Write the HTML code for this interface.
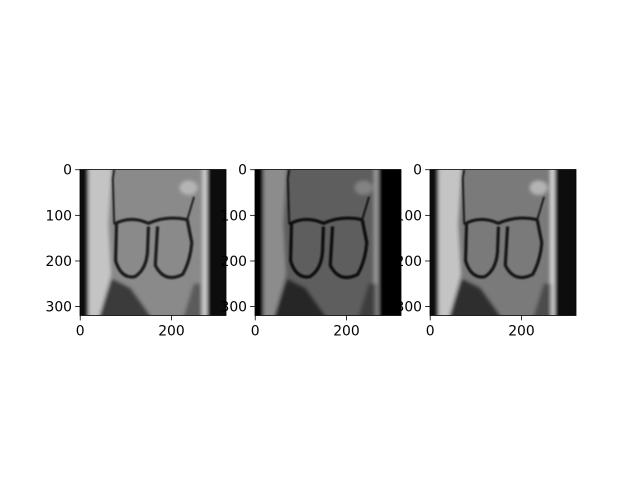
<!DOCTYPE html>
<html><head><meta charset="utf-8"><style>
body{margin:0;background:#fff;}
svg text{font-family:"DejaVu Sans","Liberation Sans",sans-serif;font-size:13.9px;fill:#000;}
</style></head><body>
<svg id="fig" width="640" height="480" xmlns="http://www.w3.org/2000/svg">
<defs><filter id="bl" x="-5%" y="-5%" width="110%" height="110%"><feGaussianBlur stdDeviation="4"/></filter>
<filter id="bl2"><feGaussianBlur stdDeviation="2"/></filter></defs>
</svg>
<script>
const xTicks=[0,200];
const yTicks=[0,100,200,300];
const imgSize=[320,320];
const panelLefts=[80,255,430];
const panelTone=[
 {bg:'#8a8a8a',left:'#0c0c0c',stripe:'#c4c4c4',right:'#0a0a0a',edge:'#d0d0d0',rstart:280,dark:'#3a3a3a',ring:'#1a1a1a'},
 {bg:'#5e5e5e',left:'#050505',stripe:'#8c8c8c',right:'#050505',edge:'#999',rstart:272,dark:'#252525',ring:'#0e0e0e'},
 {bg:'#7a7a7a',left:'#111',stripe:'#c4c4c4',right:'#0f0f0f',edge:'#d8d8d8',rstart:275,dark:'#2e2e2e',ring:'#151515'}
];
const NS='http://www.w3.org/2000/svg';
const fig=document.getElementById('fig');
const top0=169.5,size=146;
function mk(t,a,p){const e=document.createElementNS(NS,t);for(const k in a)e.setAttribute(k,a[k]);(p||fig).appendChild(e);return e;}
panelLefts.forEach((L,i)=>{
 const T=panelTone[i];
 const sx=v=>L+(v+0.5)*size/imgSize[0];
 const sy=v=>top0+(v+0.5)*size/imgSize[1];
 const g=mk('g',{});
 
 
 const s=mk('svg',{x:L,y:top0,width:size,height:size,viewBox:'0 0 320 320',preserveAspectRatio:'none'},g);
 mk('rect',{x:0,y:0,width:320,height:320,fill:T.bg},s);
 const b=mk('g',{filter:'url(#bl)'},s);
 mk('path',{d:'M18,-10 L70,-10 L62,120 L68,230 L40,330 L18,330Z',fill:T.stripe},b);
 mk('rect',{x:-10,y:-10,width:28,height:340,fill:T.left},b);
 mk('rect',{x:T.rstart,y:-10,width:60,height:340,fill:T.right},b);
 mk('rect',{x:T.rstart-12,y:-10,width:10,height:340,fill:T.edge},b);
 mk('path',{d:'M40,330 L70,240 L110,260 L160,330Z',fill:T.dark},b);
 mk('path',{d:'M225,330 L250,250 L266,250 L266,330Z',fill:T.dark,opacity:0.6},b);
 mk('ellipse',{cx:238,cy:40,rx:20,ry:16,fill:T.edge,opacity:0.6},b);
 const r=mk('g',{filter:'url(#bl2)',fill:'none',stroke:T.ring,'stroke-width':7},s);
 mk('path',{d:'M75,120 Q110,100 150,118 Q190,100 235,110'},r);
 mk('path',{d:'M80,120 L78,200 Q90,240 120,235 Q145,220 148,180 L150,125'},r);
 mk('path',{d:'M170,125 L165,210 Q185,250 225,230 Q242,200 245,160 L235,110'},r);
 mk('path',{d:'M75,120 L72,20 M75,0 L72,20','stroke-width':4},r);
 mk('path',{d:'M235,110 L250,60','stroke-width':4},r);
 mk('rect',{x:L,y:top0,width:size,height:size,fill:'none',stroke:'#000','stroke-width':0.8},g);
 xTicks.forEach(v=>{const x=sx(v);
  const tk=mk('line',{x1:x,x2:x,y1:top0+size,y2:top0+size+4.9,stroke:'#000','stroke-width':0.8},g);
  
  
  const t=mk('text',{x:x,y:top0+size+20,'text-anchor':'middle'},g);t.textContent=v;
  
  });
 yTicks.forEach(v=>{const y=sy(v);
  const tk=mk('line',{x1:L-4.9,x2:L,y1:y,y2:y,stroke:'#000','stroke-width':0.8},g);
  
  
  const t=mk('text',{x:L-8,y:y+5,'text-anchor':'end'},g);t.textContent=v;
  
  });
});
</script>
</body></html>
